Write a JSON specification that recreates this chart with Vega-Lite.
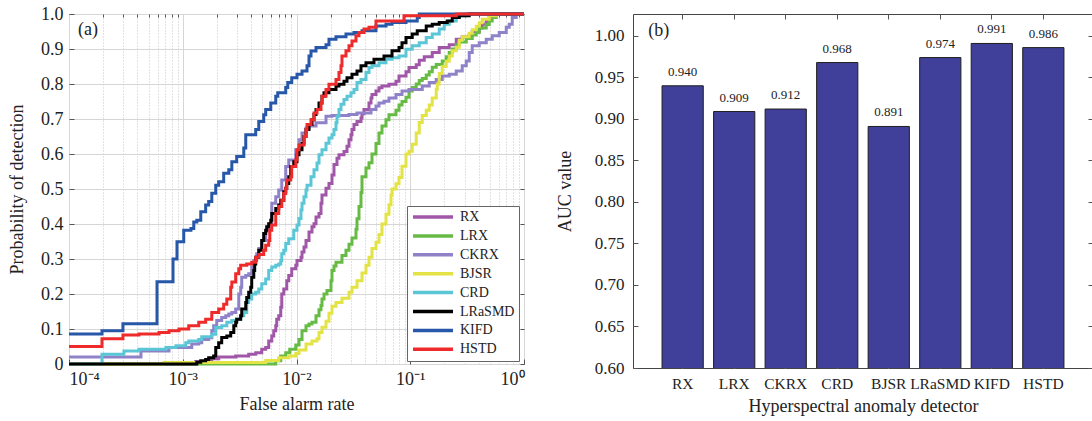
{
  "$schema": "https://vega.github.io/schema/vega-lite/v6.json",
  "background": "white",
  "padding": {"left": 8, "top": 4, "right": 0, "bottom": 0},
  "spacing": 24,
  "config": {
    "font": "Liberation Serif",
    "view": {"stroke": "#444", "strokeWidth": 1},
    "axis": {"labelFont": "Liberation Serif", "titleFont": "Liberation Serif", "labelColor": "#222", "titleColor": "#222", "titleFontWeight": "normal", "tickColor": "#555", "domain": false},
    "text": {"font": "Liberation Serif"}
  },
  "datasets": {
    "auc": [
      {"d": "RX", "auc": 0.940}, {"d": "LRX", "auc": 0.909}, {"d": "CKRX", "auc": 0.912}, {"d": "CRD", "auc": 0.968},
      {"d": "BJSR", "auc": 0.891}, {"d": "LRaSMD", "auc": 0.974}, {"d": "KIFD", "auc": 0.991}, {"d": "HSTD", "auc": 0.986}
    ],
    "roc": [
      {"d":"RX","far":0.0001,"pd":0},{"d":"RX","far":0.0013,"pd":0.007},{"d":"RX","far":0.00159,"pd":0.01},{"d":"RX","far":0.0018,"pd":0.015},{"d":"RX","far":0.00207,"pd":0.02},{"d":"RX","far":0.00292,"pd":0.023},{"d":"RX","far":0.0038,"pd":0.028},{"d":"RX","far":0.00438,"pd":0.032},{"d":"RX","far":0.00495,"pd":0.042},{"d":"RX","far":0.00536,"pd":0.047},{"d":"RX","far":0.0057,"pd":0.066},{"d":"RX","far":0.00606,"pd":0.08},{"d":"RX","far":0.00631,"pd":0.095},{"d":"RX","far":0.00657,"pd":0.109},{"d":"RX","far":0.0067,"pd":0.128},{"d":"RX","far":0.00698,"pd":0.138},{"d":"RX","far":0.00727,"pd":0.162},{"d":"RX","far":0.00742,"pd":0.2},{"d":"RX","far":0.00773,"pd":0.214},{"d":"RX","far":0.00821,"pd":0.238},{"d":"RX","far":0.00855,"pd":0.253},{"d":"RX","far":0.00908,"pd":0.272},{"d":"RX","far":0.00985,"pd":0.282},{"d":"RX","far":0.0101,"pd":0.296},{"d":"RX","far":0.01095,"pd":0.305},{"d":"RX","far":0.01118,"pd":0.32},{"d":"RX","far":0.01164,"pd":0.334},{"d":"RX","far":0.01212,"pd":0.353},{"d":"RX","far":0.01288,"pd":0.377},{"d":"RX","far":0.01368,"pd":0.392},{"d":"RX","far":0.01425,"pd":0.401},{"d":"RX","far":0.01484,"pd":0.42},{"d":"RX","far":0.01577,"pd":0.43},{"d":"RX","far":0.01642,"pd":0.459},{"d":"RX","far":0.01675,"pd":0.483},{"d":"RX","far":0.01817,"pd":0.502},{"d":"RX","far":0.0193,"pd":0.516},{"d":"RX","far":0.02051,"pd":0.54},{"d":"RX","far":0.02136,"pd":0.57},{"d":"RX","far":0.0227,"pd":0.588},{"d":"RX","far":0.02363,"pd":0.598},{"d":"RX","far":0.02615,"pd":0.607},{"d":"RX","far":0.02779,"pd":0.622},{"d":"RX","far":0.02894,"pd":0.641},{"d":"RX","far":0.03013,"pd":0.655},{"d":"RX","far":0.03075,"pd":0.67},{"d":"RX","far":0.03202,"pd":0.684},{"d":"RX","far":0.03403,"pd":0.693},{"d":"RX","far":0.03689,"pd":0.703},{"d":"RX","far":0.03765,"pd":0.715},{"d":"RX","far":0.0392,"pd":0.727},{"d":"RX","far":0.04338,"pd":0.746},{"d":"RX","far":0.04517,"pd":0.76},{"d":"RX","far":0.04609,"pd":0.77},{"d":"RX","far":0.04998,"pd":0.78},{"d":"RX","far":0.05311,"pd":0.789},{"d":"RX","far":0.05643,"pd":0.794},{"d":"RX","far":0.06502,"pd":0.799},{"d":"RX","far":0.07494,"pd":0.808},{"d":"RX","far":0.07964,"pd":0.823},{"d":"RX","far":0.09176,"pd":0.835},{"d":"RX","far":0.09751,"pd":0.847},{"d":"RX","far":0.1129,"pd":0.855},{"d":"RX","far":0.12,"pd":0.868},{"d":"RX","far":0.1328,"pd":0.878},{"d":"RX","far":0.1561,"pd":0.89},{"d":"RX","far":0.1798,"pd":0.904},{"d":"RX","far":0.2202,"pd":0.912},{"d":"RX","far":0.2537,"pd":0.928},{"d":"RX","far":0.2864,"pd":0.935},{"d":"RX","far":0.33,"pd":0.94},{"d":"RX","far":0.3507,"pd":0.95},{"d":"RX","far":0.4041,"pd":0.96},{"d":"RX","far":0.4294,"pd":0.971},{"d":"RX","far":0.4656,"pd":0.98},{"d":"RX","far":0.4947,"pd":0.99},{"d":"RX","far":0.5257,"pd":1},{"d":"RX","far":1,"pd":1},
      {"d":"LRX","far":0.0001,"pd":0},{"d":"LRX","far":0.00657,"pd":0.009},{"d":"LRX","far":0.00727,"pd":0.023},{"d":"LRX","far":0.00804,"pd":0.032},{"d":"LRX","far":0.00872,"pd":0.042},{"d":"LRX","far":0.00985,"pd":0.054},{"d":"LRX","far":0.01052,"pd":0.07},{"d":"LRX","far":0.01118,"pd":0.095},{"d":"LRX","far":0.01212,"pd":0.109},{"d":"LRX","far":0.01288,"pd":0.114},{"d":"LRX","far":0.01368,"pd":0.119},{"d":"LRX","far":0.01484,"pd":0.138},{"d":"LRX","far":0.01577,"pd":0.155},{"d":"LRX","far":0.01642,"pd":0.167},{"d":"LRX","far":0.01675,"pd":0.186},{"d":"LRX","far":0.01745,"pd":0.2},{"d":"LRX","far":0.01853,"pd":0.21},{"d":"LRX","far":0.0201,"pd":0.238},{"d":"LRX","far":0.02051,"pd":0.267},{"d":"LRX","far":0.02136,"pd":0.28},{"d":"LRX","far":0.02224,"pd":0.291},{"d":"LRX","far":0.02511,"pd":0.31},{"d":"LRX","far":0.02723,"pd":0.325},{"d":"LRX","far":0.02894,"pd":0.342},{"d":"LRX","far":0.03075,"pd":0.36},{"d":"LRX","far":0.03334,"pd":0.385},{"d":"LRX","far":0.03403,"pd":0.415},{"d":"LRX","far":0.03543,"pd":0.45},{"d":"LRX","far":0.03689,"pd":0.49},{"d":"LRX","far":0.03765,"pd":0.535},{"d":"LRX","far":0.04082,"pd":0.56},{"d":"LRX","far":0.04338,"pd":0.575},{"d":"LRX","far":0.04609,"pd":0.6},{"d":"LRX","far":0.04998,"pd":0.63},{"d":"LRX","far":0.05311,"pd":0.66},{"d":"LRX","far":0.05643,"pd":0.68},{"d":"LRX","far":0.06119,"pd":0.698},{"d":"LRX","far":0.06502,"pd":0.712},{"d":"LRX","far":0.07494,"pd":0.725},{"d":"LRX","far":0.07964,"pd":0.74},{"d":"LRX","far":0.08462,"pd":0.75},{"d":"LRX","far":0.09176,"pd":0.762},{"d":"LRX","far":0.09751,"pd":0.78},{"d":"LRX","far":0.1041,"pd":0.79},{"d":"LRX","far":0.1129,"pd":0.8},{"d":"LRX","far":0.12,"pd":0.81},{"d":"LRX","far":0.1275,"pd":0.816},{"d":"LRX","far":0.1382,"pd":0.826},{"d":"LRX","far":0.1469,"pd":0.835},{"d":"LRX","far":0.1561,"pd":0.848},{"d":"LRX","far":0.1692,"pd":0.856},{"d":"LRX","far":0.1911,"pd":0.866},{"d":"LRX","far":0.2072,"pd":0.878},{"d":"LRX","far":0.2202,"pd":0.89},{"d":"LRX","far":0.234,"pd":0.9},{"d":"LRX","far":0.2537,"pd":0.912},{"d":"LRX","far":0.2696,"pd":0.92},{"d":"LRX","far":0.3106,"pd":0.93},{"d":"LRX","far":0.3507,"pd":0.94},{"d":"LRX","far":0.3803,"pd":0.947},{"d":"LRX","far":0.4041,"pd":0.96},{"d":"LRX","far":0.4656,"pd":0.97},{"d":"LRX","far":0.4947,"pd":0.98},{"d":"LRX","far":0.5257,"pd":0.99},{"d":"LRX","far":0.5701,"pd":1},{"d":"LRX","far":1,"pd":1},
      {"d":"CKRX","far":0.0001,"pd":0.02},{"d":"CKRX","far":0.000429,"pd":0.037},{"d":"CKRX","far":0.000757,"pd":0.047},{"d":"CKRX","far":0.0012,"pd":0.057},{"d":"CKRX","far":0.001382,"pd":0.061},{"d":"CKRX","far":0.001469,"pd":0.07},{"d":"CKRX","far":0.00169,"pd":0.075},{"d":"CKRX","far":0.0018,"pd":0.095},{"d":"CKRX","far":0.00187,"pd":0.109},{"d":"CKRX","far":0.00199,"pd":0.124},{"d":"CKRX","far":0.0022,"pd":0.133},{"d":"CKRX","far":0.00239,"pd":0.138},{"d":"CKRX","far":0.00254,"pd":0.143},{"d":"CKRX","far":0.0027,"pd":0.147},{"d":"CKRX","far":0.00292,"pd":0.157},{"d":"CKRX","far":0.00311,"pd":0.2},{"d":"CKRX","far":0.00323,"pd":0.219},{"d":"CKRX","far":0.0033,"pd":0.248},{"d":"CKRX","far":0.00358,"pd":0.253},{"d":"CKRX","far":0.0038,"pd":0.258},{"d":"CKRX","far":0.00404,"pd":0.277},{"d":"CKRX","far":0.00421,"pd":0.296},{"d":"CKRX","far":0.00447,"pd":0.315},{"d":"CKRX","far":0.00466,"pd":0.33},{"d":"CKRX","far":0.00495,"pd":0.353},{"d":"CKRX","far":0.00536,"pd":0.38},{"d":"CKRX","far":0.0057,"pd":0.4},{"d":"CKRX","far":0.00606,"pd":0.459},{"d":"CKRX","far":0.00657,"pd":0.478},{"d":"CKRX","far":0.00698,"pd":0.497},{"d":"CKRX","far":0.00742,"pd":0.526},{"d":"CKRX","far":0.00804,"pd":0.564},{"d":"CKRX","far":0.00855,"pd":0.583},{"d":"CKRX","far":0.00985,"pd":0.612},{"d":"CKRX","far":0.01052,"pd":0.641},{"d":"CKRX","far":0.01118,"pd":0.66},{"d":"CKRX","far":0.01212,"pd":0.674},{"d":"CKRX","far":0.01288,"pd":0.68},{"d":"CKRX","far":0.01484,"pd":0.689},{"d":"CKRX","far":0.01817,"pd":0.708},{"d":"CKRX","far":0.02051,"pd":0.71},{"d":"CKRX","far":0.02894,"pd":0.713},{"d":"CKRX","far":0.03403,"pd":0.717},{"d":"CKRX","far":0.04517,"pd":0.727},{"d":"CKRX","far":0.04998,"pd":0.737},{"d":"CKRX","far":0.05311,"pd":0.746},{"d":"CKRX","far":0.05877,"pd":0.751},{"d":"CKRX","far":0.06502,"pd":0.76},{"d":"CKRX","far":0.07494,"pd":0.77},{"d":"CKRX","far":0.08462,"pd":0.78},{"d":"CKRX","far":0.09751,"pd":0.784},{"d":"CKRX","far":0.1275,"pd":0.794},{"d":"CKRX","far":0.1469,"pd":0.804},{"d":"CKRX","far":0.1692,"pd":0.813},{"d":"CKRX","far":0.1911,"pd":0.823},{"d":"CKRX","far":0.2202,"pd":0.828},{"d":"CKRX","far":0.2537,"pd":0.837},{"d":"CKRX","far":0.2864,"pd":0.852},{"d":"CKRX","far":0.3106,"pd":0.866},{"d":"CKRX","far":0.33,"pd":0.89},{"d":"CKRX","far":0.3507,"pd":0.909},{"d":"CKRX","far":0.4041,"pd":0.918},{"d":"CKRX","far":0.4656,"pd":0.928},{"d":"CKRX","far":0.5257,"pd":0.938},{"d":"CKRX","far":0.6057,"pd":0.947},{"d":"CKRX","far":0.6982,"pd":0.962},{"d":"CKRX","far":0.7419,"pd":0.971},{"d":"CKRX","far":0.7883,"pd":0.99},{"d":"CKRX","far":0.8548,"pd":1},{"d":"CKRX","far":1,"pd":1},
      {"d":"BJSR","far":0.0001,"pd":0},{"d":"BJSR","far":0.000684,"pd":0.004},{"d":"BJSR","far":0.00536,"pd":0.01},{"d":"BJSR","far":0.00698,"pd":0.018},{"d":"BJSR","far":0.00855,"pd":0.023},{"d":"BJSR","far":0.00985,"pd":0.03},{"d":"BJSR","far":0.01052,"pd":0.04},{"d":"BJSR","far":0.01212,"pd":0.057},{"d":"BJSR","far":0.01368,"pd":0.066},{"d":"BJSR","far":0.01514,"pd":0.072},{"d":"BJSR","far":0.01577,"pd":0.09},{"d":"BJSR","far":0.01675,"pd":0.105},{"d":"BJSR","far":0.01817,"pd":0.122},{"d":"BJSR","far":0.0193,"pd":0.145},{"d":"BJSR","far":0.02051,"pd":0.165},{"d":"BJSR","far":0.02224,"pd":0.176},{"d":"BJSR","far":0.02511,"pd":0.188},{"d":"BJSR","far":0.02894,"pd":0.205},{"d":"BJSR","far":0.03075,"pd":0.219},{"d":"BJSR","far":0.03403,"pd":0.238},{"d":"BJSR","far":0.03765,"pd":0.26},{"d":"BJSR","far":0.04082,"pd":0.282},{"d":"BJSR","far":0.04338,"pd":0.305},{"d":"BJSR","far":0.04609,"pd":0.33},{"d":"BJSR","far":0.04998,"pd":0.348},{"d":"BJSR","far":0.05311,"pd":0.37},{"d":"BJSR","far":0.05643,"pd":0.4},{"d":"BJSR","far":0.06119,"pd":0.428},{"d":"BJSR","far":0.06502,"pd":0.455},{"d":"BJSR","far":0.06773,"pd":0.483},{"d":"BJSR","far":0.06912,"pd":0.5},{"d":"BJSR","far":0.07494,"pd":0.515},{"d":"BJSR","far":0.07964,"pd":0.533},{"d":"BJSR","far":0.08462,"pd":0.565},{"d":"BJSR","far":0.09176,"pd":0.6},{"d":"BJSR","far":0.09751,"pd":0.608},{"d":"BJSR","far":0.1041,"pd":0.628},{"d":"BJSR","far":0.1129,"pd":0.66},{"d":"BJSR","far":0.12,"pd":0.69},{"d":"BJSR","far":0.1275,"pd":0.71},{"d":"BJSR","far":0.1382,"pd":0.725},{"d":"BJSR","far":0.1469,"pd":0.74},{"d":"BJSR","far":0.1561,"pd":0.76},{"d":"BJSR","far":0.1692,"pd":0.785},{"d":"BJSR","far":0.1727,"pd":0.8},{"d":"BJSR","far":0.1798,"pd":0.83},{"d":"BJSR","far":0.1911,"pd":0.85},{"d":"BJSR","far":0.2072,"pd":0.865},{"d":"BJSR","far":0.2202,"pd":0.88},{"d":"BJSR","far":0.234,"pd":0.895},{"d":"BJSR","far":0.2537,"pd":0.905},{"d":"BJSR","far":0.2696,"pd":0.925},{"d":"BJSR","far":0.2864,"pd":0.935},{"d":"BJSR","far":0.33,"pd":0.945},{"d":"BJSR","far":0.3507,"pd":0.955},{"d":"BJSR","far":0.3803,"pd":0.965},{"d":"BJSR","far":0.4041,"pd":0.975},{"d":"BJSR","far":0.4294,"pd":0.985},{"d":"BJSR","far":0.4947,"pd":0.995},{"d":"BJSR","far":0.5701,"pd":1},{"d":"BJSR","far":1,"pd":1},
      {"d":"CRD","far":0.0001,"pd":0},{"d":"CRD","far":0.000195,"pd":0.028},{"d":"CRD","far":0.000304,"pd":0.037},{"d":"CRD","far":0.000412,"pd":0.042},{"d":"CRD","far":0.000712,"pd":0.047},{"d":"CRD","far":0.000872,"pd":0.052},{"d":"CRD","far":0.001063,"pd":0.061},{"d":"CRD","far":0.001129,"pd":0.066},{"d":"CRD","far":0.001382,"pd":0.07},{"d":"CRD","far":0.001469,"pd":0.078},{"d":"CRD","far":0.0018,"pd":0.085},{"d":"CRD","far":0.00195,"pd":0.104},{"d":"CRD","far":0.0022,"pd":0.109},{"d":"CRD","far":0.00244,"pd":0.119},{"d":"CRD","far":0.0027,"pd":0.124},{"d":"CRD","far":0.00298,"pd":0.128},{"d":"CRD","far":0.00323,"pd":0.138},{"d":"CRD","far":0.00344,"pd":0.147},{"d":"CRD","far":0.00365,"pd":0.176},{"d":"CRD","far":0.0038,"pd":0.186},{"d":"CRD","far":0.00404,"pd":0.2},{"d":"CRD","far":0.00438,"pd":0.205},{"d":"CRD","far":0.00466,"pd":0.214},{"d":"CRD","far":0.00495,"pd":0.229},{"d":"CRD","far":0.00536,"pd":0.243},{"d":"CRD","far":0.0057,"pd":0.267},{"d":"CRD","far":0.00606,"pd":0.277},{"d":"CRD","far":0.00657,"pd":0.282},{"d":"CRD","far":0.00698,"pd":0.286},{"d":"CRD","far":0.00727,"pd":0.296},{"d":"CRD","far":0.00742,"pd":0.315},{"d":"CRD","far":0.00773,"pd":0.325},{"d":"CRD","far":0.00804,"pd":0.344},{"d":"CRD","far":0.00855,"pd":0.358},{"d":"CRD","far":0.00946,"pd":0.382},{"d":"CRD","far":0.0101,"pd":0.397},{"d":"CRD","far":0.01052,"pd":0.416},{"d":"CRD","far":0.01095,"pd":0.44},{"d":"CRD","far":0.01118,"pd":0.459},{"d":"CRD","far":0.01164,"pd":0.478},{"d":"CRD","far":0.01212,"pd":0.497},{"d":"CRD","far":0.01237,"pd":0.511},{"d":"CRD","far":0.01341,"pd":0.535},{"d":"CRD","far":0.01425,"pd":0.555},{"d":"CRD","far":0.01514,"pd":0.574},{"d":"CRD","far":0.01577,"pd":0.598},{"d":"CRD","far":0.01675,"pd":0.612},{"d":"CRD","far":0.01817,"pd":0.631},{"d":"CRD","far":0.0193,"pd":0.646},{"d":"CRD","far":0.02051,"pd":0.655},{"d":"CRD","far":0.02136,"pd":0.67},{"d":"CRD","far":0.02224,"pd":0.689},{"d":"CRD","far":0.0227,"pd":0.708},{"d":"CRD","far":0.02363,"pd":0.727},{"d":"CRD","far":0.02461,"pd":0.742},{"d":"CRD","far":0.02615,"pd":0.756},{"d":"CRD","far":0.02779,"pd":0.765},{"d":"CRD","far":0.03013,"pd":0.775},{"d":"CRD","far":0.03202,"pd":0.784},{"d":"CRD","far":0.03403,"pd":0.804},{"d":"CRD","far":0.03689,"pd":0.813},{"d":"CRD","far":0.04082,"pd":0.833},{"d":"CRD","far":0.04338,"pd":0.847},{"d":"CRD","far":0.04609,"pd":0.852},{"d":"CRD","far":0.05311,"pd":0.861},{"d":"CRD","far":0.06119,"pd":0.871},{"d":"CRD","far":0.06912,"pd":0.875},{"d":"CRD","far":0.07964,"pd":0.88},{"d":"CRD","far":0.09176,"pd":0.899},{"d":"CRD","far":0.1041,"pd":0.909},{"d":"CRD","far":0.12,"pd":0.918},{"d":"CRD","far":0.1382,"pd":0.933},{"d":"CRD","far":0.1561,"pd":0.943},{"d":"CRD","far":0.1798,"pd":0.957},{"d":"CRD","far":0.199,"pd":0.971},{"d":"CRD","far":0.2202,"pd":0.98},{"d":"CRD","far":0.2537,"pd":0.99},{"d":"CRD","far":0.2696,"pd":0.995},{"d":"CRD","far":0.3106,"pd":1},{"d":"CRD","far":1,"pd":1},
      {"d":"LRaSMD","far":0.0001,"pd":0},{"d":"LRaSMD","far":0.00133,"pd":0.005},{"d":"LRaSMD","far":0.00144,"pd":0.009},{"d":"LRaSMD","far":0.00159,"pd":0.013},{"d":"LRaSMD","far":0.00169,"pd":0.018},{"d":"LRaSMD","far":0.00187,"pd":0.023},{"d":"LRaSMD","far":0.00195,"pd":0.047},{"d":"LRaSMD","far":0.00207,"pd":0.061},{"d":"LRaSMD","far":0.0022,"pd":0.076},{"d":"LRaSMD","far":0.00244,"pd":0.08},{"d":"LRaSMD","far":0.00264,"pd":0.09},{"d":"LRaSMD","far":0.00281,"pd":0.109},{"d":"LRaSMD","far":0.00292,"pd":0.119},{"d":"LRaSMD","far":0.00298,"pd":0.128},{"d":"LRaSMD","far":0.00323,"pd":0.138},{"d":"LRaSMD","far":0.0033,"pd":0.157},{"d":"LRaSMD","far":0.00358,"pd":0.176},{"d":"LRaSMD","far":0.00365,"pd":0.19},{"d":"LRaSMD","far":0.0038,"pd":0.205},{"d":"LRaSMD","far":0.00396,"pd":0.219},{"d":"LRaSMD","far":0.00404,"pd":0.248},{"d":"LRaSMD","far":0.00421,"pd":0.267},{"d":"LRaSMD","far":0.00429,"pd":0.286},{"d":"LRaSMD","far":0.00438,"pd":0.305},{"d":"LRaSMD","far":0.00466,"pd":0.325},{"d":"LRaSMD","far":0.00495,"pd":0.353},{"d":"LRaSMD","far":0.00515,"pd":0.373},{"d":"LRaSMD","far":0.00536,"pd":0.382},{"d":"LRaSMD","far":0.00547,"pd":0.392},{"d":"LRaSMD","far":0.0057,"pd":0.401},{"d":"LRaSMD","far":0.00594,"pd":0.411},{"d":"LRaSMD","far":0.00606,"pd":0.43},{"d":"LRaSMD","far":0.00657,"pd":0.444},{"d":"LRaSMD","far":0.00698,"pd":0.454},{"d":"LRaSMD","far":0.00727,"pd":0.468},{"d":"LRaSMD","far":0.00773,"pd":0.492},{"d":"LRaSMD","far":0.00804,"pd":0.502},{"d":"LRaSMD","far":0.00821,"pd":0.516},{"d":"LRaSMD","far":0.00855,"pd":0.535},{"d":"LRaSMD","far":0.0089,"pd":0.564},{"d":"LRaSMD","far":0.00946,"pd":0.578},{"d":"LRaSMD","far":0.0101,"pd":0.598},{"d":"LRaSMD","far":0.01052,"pd":0.612},{"d":"LRaSMD","far":0.01118,"pd":0.631},{"d":"LRaSMD","far":0.01164,"pd":0.65},{"d":"LRaSMD","far":0.01212,"pd":0.67},{"d":"LRaSMD","far":0.01288,"pd":0.684},{"d":"LRaSMD","far":0.01368,"pd":0.698},{"d":"LRaSMD","far":0.01425,"pd":0.713},{"d":"LRaSMD","far":0.01484,"pd":0.727},{"d":"LRaSMD","far":0.01577,"pd":0.746},{"d":"LRaSMD","far":0.01675,"pd":0.765},{"d":"LRaSMD","far":0.01745,"pd":0.775},{"d":"LRaSMD","far":0.0193,"pd":0.784},{"d":"LRaSMD","far":0.02224,"pd":0.794},{"d":"LRaSMD","far":0.02363,"pd":0.799},{"d":"LRaSMD","far":0.02615,"pd":0.808},{"d":"LRaSMD","far":0.02779,"pd":0.818},{"d":"LRaSMD","far":0.03075,"pd":0.828},{"d":"LRaSMD","far":0.03403,"pd":0.837},{"d":"LRaSMD","far":0.03689,"pd":0.852},{"d":"LRaSMD","far":0.04082,"pd":0.861},{"d":"LRaSMD","far":0.048,"pd":0.871},{"d":"LRaSMD","far":0.05877,"pd":0.88},{"d":"LRaSMD","far":0.06912,"pd":0.895},{"d":"LRaSMD","far":0.07964,"pd":0.904},{"d":"LRaSMD","far":0.08462,"pd":0.918},{"d":"LRaSMD","far":0.09176,"pd":0.933},{"d":"LRaSMD","far":0.1041,"pd":0.943},{"d":"LRaSMD","far":0.1152,"pd":0.952},{"d":"LRaSMD","far":0.1382,"pd":0.966},{"d":"LRaSMD","far":0.1561,"pd":0.971},{"d":"LRaSMD","far":0.1798,"pd":0.976},{"d":"LRaSMD","far":0.2114,"pd":0.98},{"d":"LRaSMD","far":0.234,"pd":0.99},{"d":"LRaSMD","far":0.2696,"pd":0.995},{"d":"LRaSMD","far":0.33,"pd":1},{"d":"LRaSMD","far":1,"pd":1},
      {"d":"KIFD","far":0.0001,"pd":0.086},{"d":"KIFD","far":0.000195,"pd":0.095},{"d":"KIFD","far":0.000298,"pd":0.115},{"d":"KIFD","far":0.000594,"pd":0.235},{"d":"KIFD","far":0.000821,"pd":0.3},{"d":"KIFD","far":0.00089,"pd":0.349},{"d":"KIFD","far":0.00102,"pd":0.382},{"d":"KIFD","far":0.00118,"pd":0.387},{"d":"KIFD","far":0.00125,"pd":0.406},{"d":"KIFD","far":0.00133,"pd":0.411},{"d":"KIFD","far":0.00144,"pd":0.435},{"d":"KIFD","far":0.00159,"pd":0.454},{"d":"KIFD","far":0.00169,"pd":0.464},{"d":"KIFD","far":0.0018,"pd":0.488},{"d":"KIFD","far":0.00195,"pd":0.511},{"d":"KIFD","far":0.00207,"pd":0.521},{"d":"KIFD","far":0.00229,"pd":0.545},{"d":"KIFD","far":0.00254,"pd":0.555},{"d":"KIFD","far":0.0027,"pd":0.578},{"d":"KIFD","far":0.00298,"pd":0.593},{"d":"KIFD","far":0.00344,"pd":0.617},{"d":"KIFD","far":0.00358,"pd":0.655},{"d":"KIFD","far":0.00438,"pd":0.67},{"d":"KIFD","far":0.00466,"pd":0.693},{"d":"KIFD","far":0.00515,"pd":0.712},{"d":"KIFD","far":0.00536,"pd":0.727},{"d":"KIFD","far":0.00594,"pd":0.746},{"d":"KIFD","far":0.00657,"pd":0.765},{"d":"KIFD","far":0.00684,"pd":0.775},{"d":"KIFD","far":0.00804,"pd":0.79},{"d":"KIFD","far":0.00838,"pd":0.804},{"d":"KIFD","far":0.00908,"pd":0.818},{"d":"KIFD","far":0.0101,"pd":0.828},{"d":"KIFD","far":0.01118,"pd":0.837},{"d":"KIFD","far":0.01237,"pd":0.852},{"d":"KIFD","far":0.01288,"pd":0.88},{"d":"KIFD","far":0.01341,"pd":0.894},{"d":"KIFD","far":0.01484,"pd":0.904},{"d":"KIFD","far":0.01817,"pd":0.912},{"d":"KIFD","far":0.0193,"pd":0.928},{"d":"KIFD","far":0.02224,"pd":0.935},{"d":"KIFD","far":0.02723,"pd":0.943},{"d":"KIFD","far":0.03202,"pd":0.947},{"d":"KIFD","far":0.03765,"pd":0.952},{"d":"KIFD","far":0.04998,"pd":0.966},{"d":"KIFD","far":0.06119,"pd":0.971},{"d":"KIFD","far":0.06912,"pd":0.976},{"d":"KIFD","far":0.09176,"pd":0.98},{"d":"KIFD","far":0.1152,"pd":0.99},{"d":"KIFD","far":0.12,"pd":1},{"d":"KIFD","far":1,"pd":1},
      {"d":"HSTD","far":0.0001,"pd":0.05},{"d":"HSTD","far":0.000195,"pd":0.072},{"d":"HSTD","far":0.000298,"pd":0.083},{"d":"HSTD","far":0.000412,"pd":0.086},{"d":"HSTD","far":0.000618,"pd":0.09},{"d":"HSTD","far":0.000757,"pd":0.095},{"d":"HSTD","far":0.000927,"pd":0.1},{"d":"HSTD","far":0.001129,"pd":0.109},{"d":"HSTD","far":0.001382,"pd":0.119},{"d":"HSTD","far":0.00159,"pd":0.128},{"d":"HSTD","far":0.0018,"pd":0.147},{"d":"HSTD","far":0.00207,"pd":0.157},{"d":"HSTD","far":0.00229,"pd":0.171},{"d":"HSTD","far":0.00244,"pd":0.186},{"d":"HSTD","far":0.00264,"pd":0.219},{"d":"HSTD","far":0.0027,"pd":0.234},{"d":"HSTD","far":0.00292,"pd":0.258},{"d":"HSTD","far":0.00311,"pd":0.272},{"d":"HSTD","far":0.00323,"pd":0.282},{"d":"HSTD","far":0.00365,"pd":0.286},{"d":"HSTD","far":0.00404,"pd":0.291},{"d":"HSTD","far":0.00438,"pd":0.305},{"d":"HSTD","far":0.00466,"pd":0.313},{"d":"HSTD","far":0.00515,"pd":0.325},{"d":"HSTD","far":0.00536,"pd":0.339},{"d":"HSTD","far":0.0057,"pd":0.353},{"d":"HSTD","far":0.00582,"pd":0.382},{"d":"HSTD","far":0.00606,"pd":0.397},{"d":"HSTD","far":0.00657,"pd":0.43},{"d":"HSTD","far":0.00698,"pd":0.45},{"d":"HSTD","far":0.00742,"pd":0.468},{"d":"HSTD","far":0.00773,"pd":0.487},{"d":"HSTD","far":0.00804,"pd":0.502},{"d":"HSTD","far":0.00821,"pd":0.526},{"d":"HSTD","far":0.0089,"pd":0.535},{"d":"HSTD","far":0.00908,"pd":0.564},{"d":"HSTD","far":0.00985,"pd":0.583},{"d":"HSTD","far":0.0101,"pd":0.612},{"d":"HSTD","far":0.01052,"pd":0.626},{"d":"HSTD","far":0.01164,"pd":0.65},{"d":"HSTD","far":0.01212,"pd":0.67},{"d":"HSTD","far":0.01237,"pd":0.684},{"d":"HSTD","far":0.01341,"pd":0.698},{"d":"HSTD","far":0.01425,"pd":0.717},{"d":"HSTD","far":0.01514,"pd":0.727},{"d":"HSTD","far":0.01642,"pd":0.746},{"d":"HSTD","far":0.01675,"pd":0.765},{"d":"HSTD","far":0.01817,"pd":0.784},{"d":"HSTD","far":0.0193,"pd":0.799},{"d":"HSTD","far":0.02224,"pd":0.813},{"d":"HSTD","far":0.02363,"pd":0.833},{"d":"HSTD","far":0.02461,"pd":0.852},{"d":"HSTD","far":0.02511,"pd":0.88},{"d":"HSTD","far":0.02723,"pd":0.895},{"d":"HSTD","far":0.02894,"pd":0.909},{"d":"HSTD","far":0.03075,"pd":0.923},{"d":"HSTD","far":0.03334,"pd":0.938},{"d":"HSTD","far":0.03543,"pd":0.947},{"d":"HSTD","far":0.0392,"pd":0.957},{"d":"HSTD","far":0.04338,"pd":0.962},{"d":"HSTD","far":0.04998,"pd":0.98},{"d":"HSTD","far":0.0881,"pd":0.995},{"d":"HSTD","far":0.2537,"pd":1},{"d":"HSTD","far":1,"pd":1}
    ]
  },
  "hconcat": [
    {
      "width": 455,
      "height": 350,
      "layer": [
        {
          "data": {"values": [{}]},
          "mark": {"type": "point", "opacity": 0},
          "encoding": {
            "x": {"datum": 0.0001, "type": "quantitative", "scale": {"type": "log", "domain": [0.0001, 1], "nice": false},
              "axis": {"orient": "top", "values": [0.0002,0.0003,0.0004,0.0005,0.0006,0.0007,0.0008,0.0009,0.002,0.003,0.004,0.005,0.006,0.007,0.008,0.009,0.02,0.03,0.04,0.05,0.06,0.07,0.08,0.09,0.2,0.3,0.4,0.5,0.6,0.7,0.8,0.9],
                "grid": true, "gridDash": [1, 2], "gridColor": "#c4c4c4", "labels": false, "ticks": true, "tickSize": -3, "title": null}},
            "y": {"datum": 0, "type": "quantitative", "scale": {"domain": [0, 1], "nice": false},
              "axis": {"orient": "right", "values": [0,0.1,0.2,0.3,0.4,0.5,0.6,0.7,0.8,0.9,1], "grid": false, "labels": false, "tickSize": -4, "title": null}}
          }
        },
        {
          "data": {"name": "roc"},
          "mark": {"type": "line", "interpolate": "step-after", "strokeWidth": 3},
          "encoding": {
            "x": {"field": "far", "type": "quantitative", "scale": {"type": "log", "domain": [0.0001, 1], "nice": false},
              "axis": {"orient": "bottom", "values": [0.0001, 0.001, 0.01, 0.1, 1],
                "labelExpr": "datum.value < 0.0005 ? '10⁻⁴' : datum.value < 0.005 ? '10⁻³' : datum.value < 0.05 ? '10⁻²' : datum.value < 0.5 ? '10⁻¹' : '10⁰'",
                "grid": true, "gridColor": "#d6d6d6", "tickSize": -5, "labelPadding": 11, "labelFontSize": 18,
                "title": "False alarm rate", "titleFontSize": 18, "titlePadding": 7}},
            "y": {"field": "pd", "type": "quantitative", "scale": {"domain": [0, 1], "nice": false},
              "axis": {"orient": "left", "values": [0,0.1,0.2,0.3,0.4,0.5,0.6,0.7,0.8,0.9,1],
                "labelExpr": "datum.value == 0 ? '0' : format(datum.value, '.1f')",
                "grid": true, "gridColor": "#d6d6d6", "tickSize": -5, "labelPadding": 11, "labelFontSize": 18,
                "title": "Probability of detection", "titleFontSize": 18, "titlePadding": 14}},
            "color": {"field": "d", "type": "nominal",
              "scale": {"domain": ["RX", "LRX", "CKRX", "BJSR", "CRD", "LRaSMD", "KIFD", "HSTD"],
                "range": ["#a157a8", "#66bb44", "#8f82c9", "#e3e345", "#5bc6d5", "#000000", "#2657a8", "#ee2a2a"]},
              "legend": {"orient": "none", "legendX": 338, "legendY": 192, "title": null, "symbolType": "stroke",
                "symbolSize": 1600, "symbolStrokeWidth": 3.5, "clipHeight": 14, "rowPadding": 4.9, "padding": 4,
                "labelOffset": 5, "labelFont": "Liberation Serif", "labelFontSize": 14, "labelColor": "#222",
                "strokeColor": "#666", "fillColor": "white"}}
          }
        },
        {
          "data": {"values": [{}]},
          "mark": {"type": "text", "fontSize": 18, "align": "center", "baseline": "middle", "color": "#222"},
          "encoding": {
            "x": {"datum": 0.000147, "type": "quantitative", "axis": null},
            "y": {"datum": 0.954, "type": "quantitative", "axis": null},
            "text": {"value": "(a)"}
          }
        }
      ],
      "resolve": {"axis": {"x": "independent", "y": "independent"}}
    },
    {
      "width": 460,
      "height": 354,
      "data": {"name": "auc"},
      "layer": [
        {
          "mark": {"type": "bar", "fill": "#40409a", "stroke": "#1e1e1e", "strokeWidth": 1, "clip": true},
          "encoding": {
            "x": {"field": "d", "type": "nominal",
              "scale": {"domain": ["RX", "LRX", "CKRX", "CRD", "BJSR", "LRaSMD", "KIFD", "HSTD"], "paddingInner": 0.2, "paddingOuter": 0.564},
              "axis": {"orient": "bottom", "labelAngle": 0, "labelFontSize": 15.5, "labelPadding": 13, "tickSize": -5, "tickColor": "#888",
                "labelOverlap": false, "title": "Hyperspectral anomaly detector", "titleFontSize": 18, "titlePadding": 6}},
            "y": {"field": "auc", "type": "quantitative", "scale": {"domain": [0.6, 1.0265], "nice": false, "zero": false},
              "axis": {"orient": "left", "values": [0.6,0.65,0.7,0.75,0.8,0.85,0.9,0.95,1.0], "format": ".2f", "labelFontSize": 17,
                "labelPadding": 14, "tickSize": -5, "grid": false, "title": "AUC value", "titleFontSize": 18, "titlePadding": 20}}
          }
        },
        {
          "mark": {"type": "text", "fontSize": 13, "dy": -10, "baseline": "alphabetic", "color": "#222"},
          "encoding": {
            "x": {"field": "d", "type": "nominal", "axis": null},
            "y": {"field": "auc", "type": "quantitative", "axis": null},
            "text": {"field": "auc", "type": "quantitative", "format": ".3f"}
          }
        },
        {
          "data": {"values": [{}]},
          "mark": {"type": "point", "opacity": 0},
          "encoding": {
            "x": {"datum": "RX", "type": "nominal", "axis": {"orient": "top", "labels": false, "tickSize": -5, "title": null}},
            "y": {"datum": 0.6, "type": "quantitative", "axis": {"orient": "right", "values": [0.6,0.65,0.7,0.75,0.8,0.85,0.9,0.95,1.0], "labels": false, "tickSize": -5, "grid": false, "title": null}}
          }
        },
        {
          "data": {"values": [{}]},
          "mark": {"type": "text", "fontSize": 18, "dx": -24, "align": "center", "baseline": "middle", "color": "#222"},
          "encoding": {
            "x": {"datum": "RX", "type": "nominal", "axis": null},
            "y": {"datum": 1.006, "type": "quantitative", "axis": null},
            "text": {"value": "(b)"}
          }
        }
      ],
      "resolve": {"axis": {"x": "independent", "y": "independent"}}
    }
  ]
}
